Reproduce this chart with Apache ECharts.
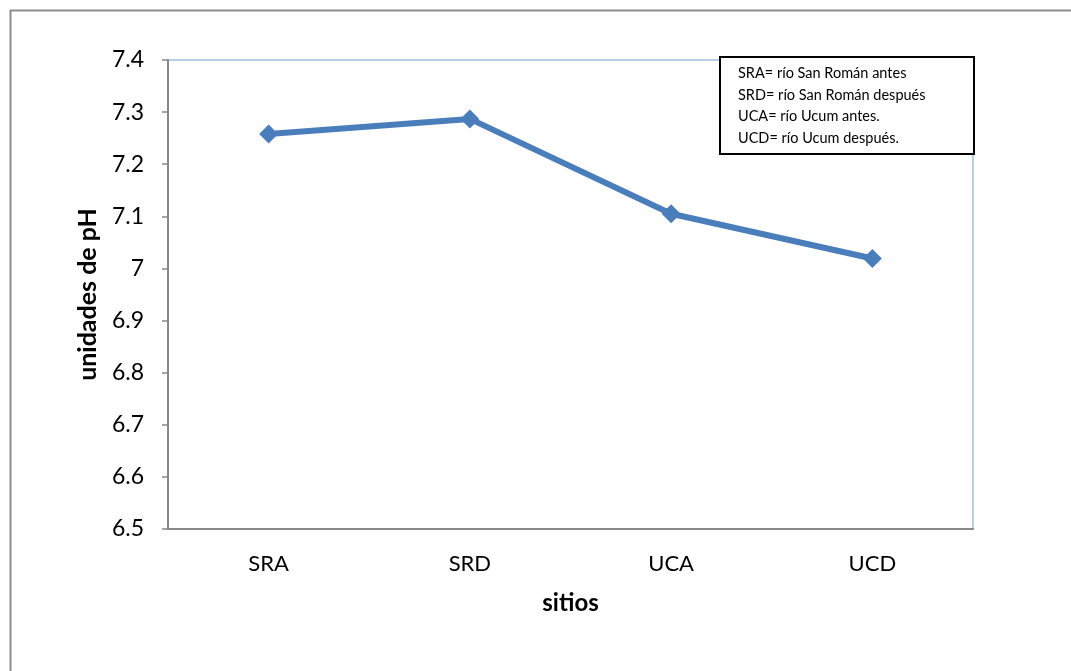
<!DOCTYPE html>
<html>
<head>
<meta charset="utf-8">
<script src="https://cdn.jsdelivr.net/npm/echarts@6/dist/echarts.min.js"></script>
<style>
  html, body { margin: 0; padding: 0; background: #fff; }
  #chart { width: 1071px; height: 671px; }
</style>
</head>
<body>
<div id="chart"></div>
<script>
// datos de pH por sitio
const sitios = ['SRA', 'SRD', 'UCA', 'UCD']
const phValues = [7.258, 7.287, 7.105, 7.019]
const notas = [
  'SRA= río San Román antes',
  'SRD= río San Román después',
  'UCA= río Ucum antes.',
  'UCD= río Ucum después.'
]

const FONT = 'Lato, "Open Sans", sans-serif'
const chart = echarts.init(document.getElementById('chart'))

const option = {
  backgroundColor: '#fff',
  animation: false,
  grid: {
    left: 168,
    right: 98,
    top: 60,
    bottom: 142,
    show: true,
    borderColor: '#b9cde5',
    borderWidth: 2
  },
  xAxis: {
    type: 'category',
    data: sitios,
    boundaryGap: true,
    name: 'sitios',
    nameLocation: 'middle',
    nameGap: 62,
    nameTextStyle: { fontFamily: FONT, fontSize: 24, fontWeight: 'bold', color: '#000' },
    axisLine: { lineStyle: { color: '#888', width: 2 } },
    axisTick: { show: false },
    axisLabel: { fontFamily: FONT, fontSize: 22, color: '#000', margin: 24 }
  },
  yAxis: {
    type: 'value',
    min: 6.5,
    max: 7.4,
    interval: 0.1,
    name: 'unidades de pH',
    nameLocation: 'middle',
    nameGap: 68,
    nameTextStyle: { fontFamily: FONT, fontSize: 25, fontWeight: 'bold', color: '#000' },
    axisLine: { show: true, lineStyle: { color: '#888', width: 2 } },
    axisTick: { show: true, inside: false, length: 6, lineStyle: { color: '#888', width: 1.5 } },
    splitLine: { show: false },
    axisLabel: { fontFamily: FONT, fontSize: 23, color: '#000', margin: 24 }
  },
  series: [{
    type: 'line',
    data: phValues,
    symbol: 'diamond',
    symbolSize: 19,
    lineStyle: { color: '#4a7ebb', width: 6 },
    itemStyle: { color: '#4a7ebb' }
  }],
  graphic: [
    {
      type: 'polyline',
      shape: { points: [[10.5, 671], [10.5, 10.5], [1071, 10.5]] },
      style: { stroke: '#8c8c8c', lineWidth: 2, fill: null }
    },
    {
      type: 'rect',
      left: 719,
      top: 56,
      shape: { width: 254, height: 97 },
      style: { fill: '#fff', stroke: '#000', lineWidth: 2 }
    },
    ...notas.map((t, i) => ({
      type: 'text',
      left: 738,
      top: 66 + i * 21.5,
      style: { text: t, font: '14.5px ' + FONT, fill: '#000' }
    }))
  ]
}

chart.setOption(option)
</script>
</body>
</html>
